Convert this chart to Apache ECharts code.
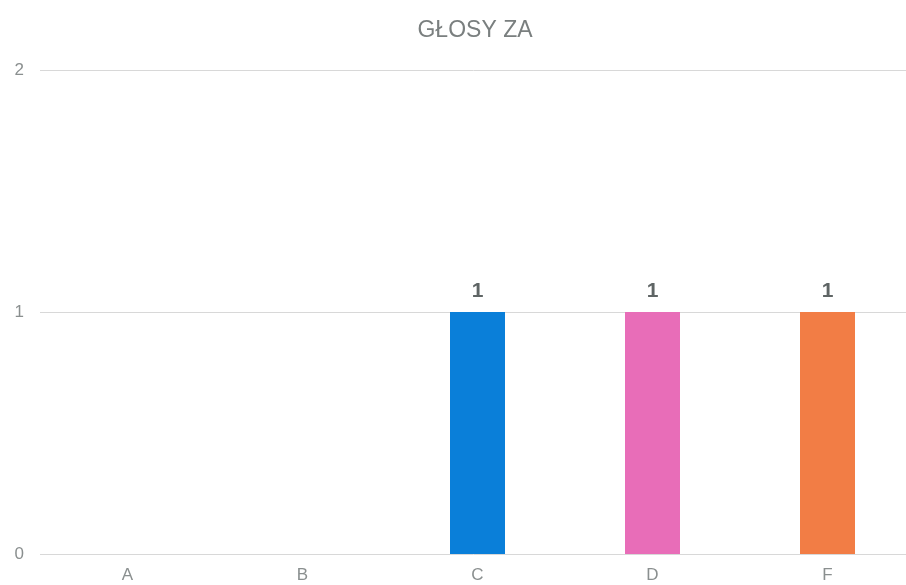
<!DOCTYPE html>
<html>
<head>
<meta charset="utf-8">
<script src="https://cdn.jsdelivr.net/npm/echarts@6/dist/echarts.min.js"></script>
<style>
  html, body { margin: 0; padding: 0; background: #fff; }
  #chart { width: 906px; height: 585px; }
</style>
</head>
<body>
<div id="chart"></div>
<script>
// dane wykresu
const categories = ["A", "B", "C", "D", "F"];
const votes = [0, 0, 1, 1, 1];
const barColors = ["#0a7fd9", "#0a7fd9", "#0a7fd9", "#e86db8", "#f27d45"];
const yTicks = [0, 1, 2];

const chart = echarts.init(document.getElementById("chart"));

chart.setOption({
  animation: false,
  title: {
    text: "GŁOSY ZA",
    left: 470,
    textAlign: "center",
    top: 14,
    textStyle: {
      color: "#7a7f7f",
      fontWeight: "normal",
      fontSize: 23,
      fontFamily: "Liberation Sans"
    }
  },
  grid: {
    left: 40,
    right: -9,
    top: 70,
    bottom: 31,
    containLabel: false,
    outerBoundsMode: "none"
  },
  xAxis: {
    type: "category",
    data: categories,
    axisLine: { show: false },
    axisTick: { show: false },
    axisLabel: {
      color: "#8a8f8f",
      fontSize: 17,
      fontFamily: "Liberation Sans",
      margin: 13
    }
  },
  yAxis: {
    type: "value",
    min: yTicks[0],
    max: yTicks[yTicks.length - 1],
    interval: 1,
    axisLine: { show: false },
    axisTick: { show: false },
    axisLabel: {
      color: "#8a8f8f",
      fontSize: 17,
      fontFamily: "Liberation Sans",
      margin: 16
    },
    splitLine: {
      lineStyle: { color: "#d8d8d8", width: 1 }
    }
  },
  series: [
    {
      type: "bar",
      barWidth: 55,
      data: votes.map((v, i) => ({
        value: v,
        itemStyle: { color: barColors[i] },
        label: { show: v > 0 }
      })),
      label: {
        position: "top",
        distance: 10,
        color: "#5f6565",
        fontWeight: "bold",
        fontSize: 21,
        fontFamily: "Liberation Sans"
      }
    }
  ]
});
</script>
</body>
</html>
